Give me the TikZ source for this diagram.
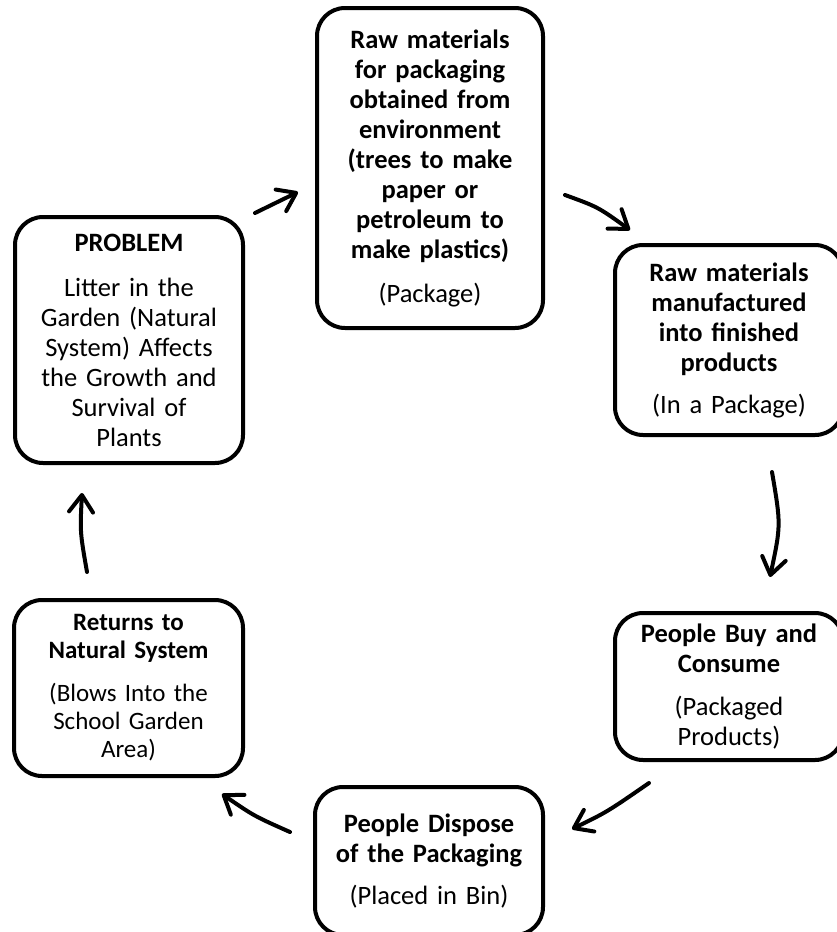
\documentclass[tikz,border=0pt]{standalone}
\usepackage{fontspec}
\setmainfont{Carlito}
\usetikzlibrary{arrows.meta}
\begin{document}
\begin{tikzpicture}[x=1pt,y=-1pt,
  box/.style={draw, line width=4pt, rounded corners=28pt, align=center, inner sep=0pt,
    text width=220pt, font=\fontsize{26.5pt}{30pt}\selectfont},
  arr/.style={line width=4pt, line cap=round, -{Straight Barb[length=17pt,width=24pt,round]}}]
\useasboundingbox (0,0) rectangle (837,932);
\clip (0,0) rectangle (837,932);
\fill[white] (0,0) rectangle (837,932);

\node[box, minimum width=226pt, minimum height=320pt] (raw) at (430,168)
  {{\bfseries Raw materials\\for packaging\\obtained from\\environment\\(trees to make\\paper or\\petroleum to\\make plastics)}\\[14pt](Package)};
\node[box, minimum width=228pt, minimum height=190pt] (mfg) at (729,340)
  {{\bfseries Raw materials\\manufactured\\into finished\\products}\\[12pt](In a Package)};
\node[box, minimum width=228pt, minimum height=147pt] (buy) at (729,686.5)
  {{\bfseries People Buy and\\Consume}\\[13pt](Packaged\\Products)};
\node[box, minimum width=228pt, minimum height=148pt] (disp) at (429,861)
  {{\bfseries People Dispose\\of the Packaging}\\[12pt](Placed in Bin)};
\node[box, minimum width=229pt, minimum height=176pt, font=\fontsize{25pt}{28pt}\selectfont] (ret) at (128.5,688)
  {{\bfseries Returns to\\Natural System}\\[15pt](Blows Into the\\School Garden\\Area)};
\node[box, minimum width=228pt, minimum height=246pt] (prob) at (129,340)
  {{\bfseries PROBLEM}\\[15pt]Litter in the\\Garden (Natural\\System) Affects\\the Growth and\\Survival of\\Plants};

\coordinate (a1s) at (255,213); \coordinate (a1e) at (298,192);
\coordinate (a2s) at (565,195); \coordinate (a2e) at (630,230);
\coordinate (a3s) at (772,472); \coordinate (a3e) at (770,577);
\coordinate (a4s) at (649,783); \coordinate (a4e) at (572,829);
\coordinate (a5s) at (290,832); \coordinate (a5e) at (222,794);
\coordinate (a6s) at (87,572);  \coordinate (a6e) at (82,493);

\draw[arr] (a1s) -- (a1e);
\draw[arr] (a2s) .. controls (598,207) .. (a2e);
\draw[arr] (a3s) .. controls (781,525) .. (a3e);
\draw[arr] (a4s) .. controls (607,812) .. (a4e);
\draw[arr] (a5s) .. controls (254,816) .. (a5e);
\draw[arr] (a6s) .. controls (80,532) .. (a6e);
\end{tikzpicture}
\end{document}
